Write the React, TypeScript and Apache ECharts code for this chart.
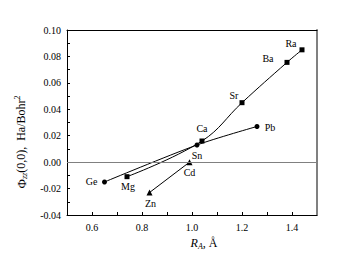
import React, { useEffect, useRef } from "react";
import * as echarts from "echarts";

const group2Names = ["Mg", "Ca", "Sr", "Ba", "Ra"];
const group2X = [0.74, 1.04, 1.2, 1.38, 1.44];
const group2Y = [-0.011, 0.016, 0.045, 0.0755, 0.085];

const group14Names = ["Ge", "Sn", "Pb"];
const group14X = [0.65, 1.02, 1.26];
const group14Y = [-0.015, 0.013, 0.027];

const group12Names = ["Zn", "Cd"];
const group12X = [0.83, 0.99];
const group12Y = [-0.023, 0.0];

const xTicks = ["0.6", "0.8", "1.0", "1.2", "1.4"];
const yTicks = ["-0.04", "-0.02", "0.00", "0.02", "0.04", "0.06", "0.08", "0.10"];

const labelOffsets: Record<string, [number, number]> = {
  Ra: [-11, -6],
  Ba: [-19, -4],
  Sr: [-8, -7],
  Ca: [0, -13],
  Pb: [13, 1],
  Sn: [0, 11],
  Cd: [0, 10],
  Zn: [1, 11],
  Mg: [1, 10],
  Ge: [-13, 0],
};

const FONT = "Liberation Serif";

function build(names: string[], xs: number[], ys: number[]) {
  return names.map((n, i) => ({
    name: n,
    value: [xs[i], ys[i]],
    label: {
      show: true,
      formatter: n,
      position: "inside",
      offset: labelOffsets[n],
      fontFamily: FONT,
      fontSize: 10,
      color: "#000",
      textBorderWidth: 0,
    },
  }));
}

export default function App() {
  const ref = useRef<HTMLDivElement>(null);
  useEffect(() => {
    if (!ref.current) return;
    const chart = echarts.init(ref.current, undefined, { renderer: "svg" });
    const lineBase = { color: "#000", width: 1 };
    const seriesCommon = {
      type: "line",
      lineStyle: { color: "#000", width: 1 },
      itemStyle: { color: "#000" },
      label: { color: "#000", fontFamily: FONT },
      emphasis: { disabled: true },
      z: 3,
    };
    chart.setOption({
      animation: false,
      backgroundColor: "#fff",
      color: ["#000"],
      textStyle: { fontFamily: FONT },
      grid: { left: 67, top: 30, width: 250, height: 185, containLabel: false },
      xAxis: [
        {
          type: "value",
          min: 0.5,
          max: 1.5,
          interval: 0.1,
          axisLine: { show: true, onZero: false, lineStyle: lineBase },
          axisTick: { show: true, inside: true, length: 3, lineStyle: lineBase },
          splitLine: { show: false },
          axisLabel: {
            fontFamily: FONT,
            fontSize: 10,
            color: "#000",
            margin: 7,
            showMinLabel: false,
            showMaxLabel: false,
            formatter: (v: number) => {
              const s = v.toFixed(1);
              return xTicks.includes(s) ? s : "";
            },
          },
        },
        {
          type: "value",
          position: "top",
          min: 0.5,
          max: 1.5,
          axisLine: { show: true, onZero: false, lineStyle: lineBase },
          axisTick: { show: false },
          axisLabel: { show: false },
          splitLine: { show: false },
        },
      ],
      yAxis: [
        {
          type: "value",
          min: -0.04,
          max: 0.1,
          interval: 0.01,
          axisLine: { show: true, onZero: false, lineStyle: lineBase },
          axisTick: { show: true, inside: true, length: 3, lineStyle: lineBase },
          splitLine: { show: false },
          axisLabel: {
            fontFamily: FONT,
            fontSize: 10,
            color: "#000",
            margin: 6,
            formatter: (v: number) => {
              const s = v.toFixed(2);
              const t = s === "-0.00" ? "0.00" : s;
              return yTicks.includes(t) ? t : "";
            },
          },
        },
        {
          type: "value",
          position: "right",
          min: -0.04,
          max: 0.1,
          axisLine: { show: true, onZero: false, lineStyle: { color: "#808080", width: 2 } },
          axisTick: { show: false },
          axisLabel: { show: false },
          splitLine: { show: false },
        },
      ],
      graphic: [
        {
          type: "text",
          x: 21,
          y: 142,
          rotation: Math.PI / 2,
          style: {
            text: "{p|Φ}{s|zz}{t|(0,0),  Ha/Bohr}{u|2}",
            align: "center",
            verticalAlign: "middle",
            fill: "#000",
            fontFamily: FONT,
            rich: {
              p: { fontFamily: FONT, fontSize: 13, fill: "#000" },
              s: { fontFamily: FONT, fontSize: 8, fontStyle: "italic", fill: "#000", padding: [7, 0, 0, 0] },
              t: { fontFamily: FONT, fontSize: 12, fill: "#000" },
              u: { fontFamily: FONT, fontSize: 8, fill: "#000", padding: [0, 0, 7, 0] },
            },
          },
        },
        {
          type: "text",
          x: 204,
          y: 243,
          style: {
            text: "{r|R}{s|A}{t|, Å}",
            align: "center",
            verticalAlign: "middle",
            fill: "#000",
            fontFamily: FONT,
            rich: {
              r: { fontFamily: FONT, fontSize: 12, fontStyle: "italic", fill: "#000" },
              s: { fontFamily: FONT, fontSize: 8, fontStyle: "italic", fill: "#000", padding: [7, 0, 0, 0] },
              t: { fontFamily: FONT, fontSize: 12, fill: "#000" },
            },
          },
        },
      ],
      series: [
        {
          ...seriesCommon,
          smooth: 0.4,
          symbol: "rect",
          symbolSize: 5,
          data: build(group2Names, group2X, group2Y),
          markLine: {
            silent: true,
            symbol: "none",
            label: { show: false },
            lineStyle: { color: "#808080", type: "solid", width: 1 },
            data: [{ yAxis: 0 }],
          },
        },
        {
          ...seriesCommon,
          smooth: 0.3,
          symbol: "circle",
          symbolSize: 5,
          data: build(group14Names, group14X, group14Y),
        },
        {
          ...seriesCommon,
          symbol: "triangle",
          symbolSize: 6,
          data: build(group12Names, group12X, group12Y),
        },
      ],
    });
    return () => chart.dispose();
  }, []);
  return (
    <div
      ref={ref}
      style={{ position: "fixed", left: 0, top: 0, width: 340, height: 258, background: "#fff" }}
    />
  );
}
